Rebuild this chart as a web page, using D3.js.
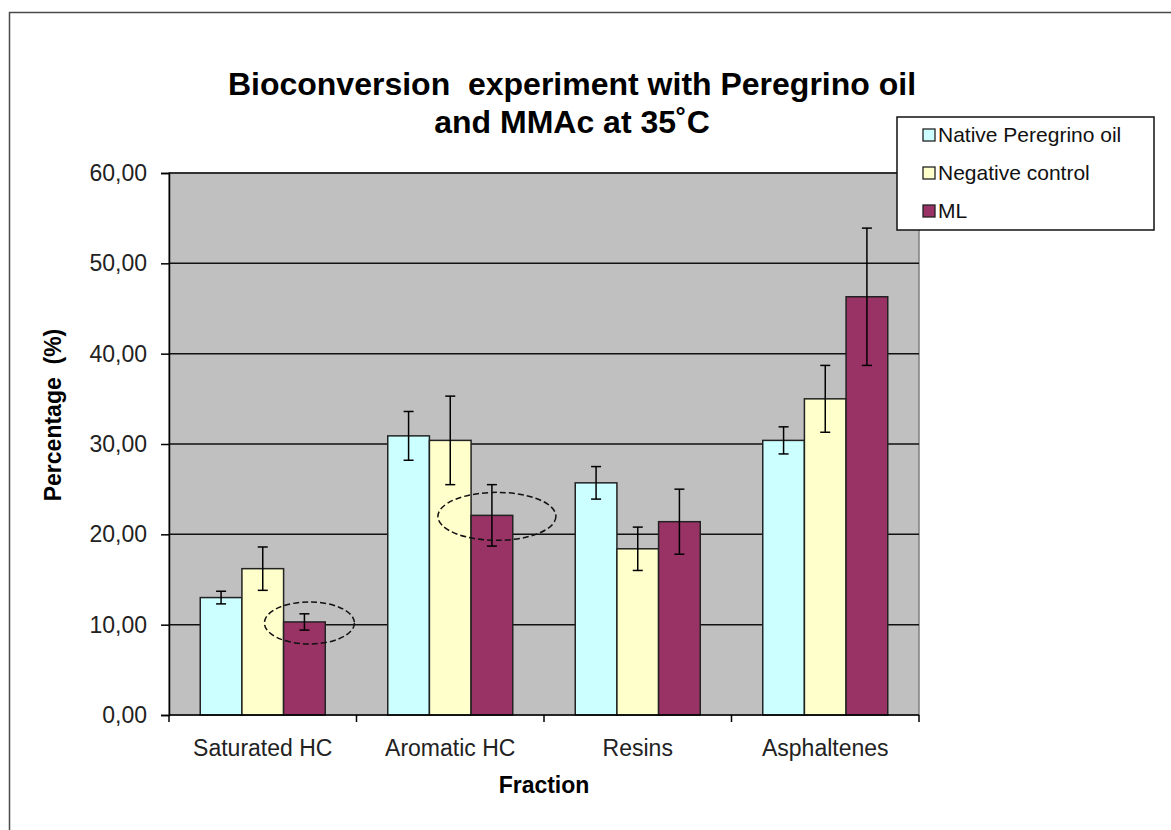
<!DOCTYPE html>
<html>
<head>
<meta charset="utf-8">
<script src="https://cdn.jsdelivr.net/npm/d3@7"></script>
<style>
  html, body { margin: 0; padding: 0; background: #fff; }
  svg { display: block; font-family: "Liberation Sans", Arial, sans-serif; }
</style>
</head>
<body>
<div id="chart"></div>
<script>
// ===== data =====
const categories = ["Saturated HC", "Aromatic HC", "Resins", "Asphaltenes"];
const seriesNames = ["Native Peregrino oil", "Negative control", "ML"];
const nativeValues = [13.0, 30.9, 25.7, 30.4];
const nativeErrors = [0.7, 2.7, 1.8, 1.5];
const controlValues = [16.2, 30.4, 18.4, 35.0];
const controlErrors = [2.4, 4.9, 2.4, 3.7];
const mlValues = [10.3, 22.1, 21.4, 46.3];
const mlErrors = [0.9, 3.4, 3.6, 7.6];
const yTicks = [0, 10, 20, 30, 40, 50, 60];
// bars circled with a dashed ring
const circledCategories = ["Saturated HC", "Aromatic HC"];
const circledSeries = "ML";

const colors = { "Native Peregrino oil": "#ccffff", "Negative control": "#ffffcc", "ML": "#993366" };
const font = "'Liberation Sans', Arial, sans-serif";

const W = 1171, H = 830;
const plot = { left: 169, right: 919, top: 173, bottom: 715 };

const svg = d3.select("#chart").append("svg")
    .attr("width", W)
    .attr("height", H);

// outer chart frame (runs off right and bottom edges)
svg.append("rect")
    .attr("x", 9.5).attr("y", 12.5)
    .attr("width", W + 20).attr("height", H + 20)
    .attr("fill", "#fff")
    .attr("stroke", "#4a4a4a")
    .attr("stroke-width", 1.5);

// =========================
// SCALES
// =========================
const x = d3.scaleBand()
    .domain(categories)
    .range([plot.left, plot.right])
    .padding(0);

const xs = d3.scaleBand()
    .domain(seriesNames)
    .range([0, x.bandwidth()])
    .paddingInner(0)
    .paddingOuter(0.75);

const y = d3.scaleLinear()
    .domain([0, 60])
    .range([plot.bottom, plot.top]);

const fmt = d3.formatLocale({ decimal: ",", thousands: ".", grouping: [3], currency: ["", ""] }).format(".2f");

const rows = categories.map((c, i) => ({
    category: c,
    bars: [
        { series: seriesNames[0], value: nativeValues[i], err: nativeErrors[i] },
        { series: seriesNames[1], value: controlValues[i], err: controlErrors[i] },
        { series: seriesNames[2], value: mlValues[i], err: mlErrors[i] }
    ]
}));

// =========================
// PLOT AREA + GRID
// =========================
svg.append("rect")
    .attr("x", plot.left).attr("y", plot.top)
    .attr("width", plot.right - plot.left)
    .attr("height", plot.bottom - plot.top)
    .attr("fill", "#c0c0c0")
    .attr("stroke", "#808080")
    .attr("stroke-width", 1.5);

svg.append("g")
    .selectAll("line")
    .data(yTicks.filter(t => t > 0))
    .join("line")
    .attr("x1", plot.left).attr("x2", plot.right)
    .attr("y1", d => y(d)).attr("y2", d => y(d))
    .attr("stroke", "#111")
    .attr("stroke-width", 1.5);

// =========================
// BARS + ERROR BARS
// =========================
const groups = svg.append("g")
    .selectAll("g")
    .data(rows)
    .join("g")
    .attr("transform", d => `translate(${x(d.category)},0)`);

groups.selectAll("rect")
    .data(d => d.bars)
    .join("rect")
    .attr("x", d => xs(d.series))
    .attr("y", d => y(d.value))
    .attr("width", xs.bandwidth())
    .attr("height", d => y(0) - y(d.value))
    .attr("fill", d => colors[d.series])
    .attr("stroke", "#222")
    .attr("stroke-width", 1.5);

const err = groups.selectAll("g.err")
    .data(d => d.bars)
    .join("g")
    .attr("class", "err")
    .attr("stroke", "#000")
    .attr("stroke-width", 1.5);

const cx = d => xs(d.series) + xs.bandwidth() / 2;
err.append("line")
    .attr("x1", cx).attr("x2", cx)
    .attr("y1", d => y(d.value + d.err)).attr("y2", d => y(d.value - d.err));
err.append("line")
    .attr("x1", d => cx(d) - 5).attr("x2", d => cx(d) + 5)
    .attr("y1", d => y(d.value + d.err)).attr("y2", d => y(d.value + d.err));
err.append("line")
    .attr("x1", d => cx(d) - 5).attr("x2", d => cx(d) + 5)
    .attr("y1", d => y(d.value - d.err)).attr("y2", d => y(d.value - d.err));

// dashed rings around the highlighted ML bars
const ringSize = [[45, 21], [59, 24]];
circledCategories.forEach((c, i) => {
    const v = mlValues[categories.indexOf(c)];
    svg.append("ellipse")
        .attr("cx", x(c) + xs(circledSeries) + xs.bandwidth() / 2 + 5)
        .attr("cy", y(v) + 1)
        .attr("rx", ringSize[i][0])
        .attr("ry", ringSize[i][1])
        .attr("fill", "none")
        .attr("stroke", "#111")
        .attr("stroke-width", 1.5)
        .attr("stroke-dasharray", "6,3");
});

// =========================
// AXES
// =========================
const yAxis = svg.append("g")
    .attr("transform", `translate(${plot.left},0)`)
    .call(d3.axisLeft(y).tickValues(yTicks).tickFormat(fmt).tickSize(8).tickPadding(14));

const xAxis = svg.append("g")
    .attr("transform", `translate(0,${plot.bottom})`)
    .call(d3.axisBottom(x).tickSize(0).tickPadding(25));

// category boundary ticks
svg.append("g")
    .selectAll("line")
    .data(categories.map(c => x(c)).concat([plot.right]))
    .join("line")
    .attr("x1", d => d).attr("x2", d => d)
    .attr("y1", plot.bottom).attr("y2", plot.bottom + 7)
    .attr("stroke", "#000")
    .attr("stroke-width", 1.5);

[yAxis, xAxis].forEach(a => {
    a.select(".domain").attr("stroke", "#000").attr("stroke-width", 1.5);
    a.selectAll(".tick line").attr("stroke", "#000").attr("stroke-width", 1.5);
    a.selectAll("text")
        .attr("fill", "#222")
        .style("font-family", font)
        .style("font-size", "23px");
});
xAxis.select(".domain").attr("d", `M${plot.left},0H${plot.right}`);

// =========================
// TITLES
// =========================
const title = svg.append("text")
    .attr("x", 572)
    .attr("y", 95)
    .attr("text-anchor", "middle")
    .style("font-family", font)
    .style("font-size", "32px")
    .style("font-weight", "bold")
    .attr("fill", "#000");
title.append("tspan").attr("x", 572).attr("xml:space", "preserve").text("Bioconversion  experiment with Peregrino oil");
title.append("tspan").attr("x", 572).attr("dy", 38).text("and MMAc at 35˚C");

svg.append("text")
    .attr("x", (plot.left + plot.right) / 2)
    .attr("y", 793)
    .attr("text-anchor", "middle")
    .style("font-family", font)
    .style("font-size", "23px")
    .style("font-weight", "bold")
    .text("Fraction");

svg.append("text")
    .attr("transform", `translate(61,${(plot.top + plot.bottom) / 2 - 29}) rotate(-90)`)
    .attr("text-anchor", "middle")
    .attr("xml:space", "preserve")
    .style("font-family", font)
    .style("font-size", "23px")
    .style("font-weight", "bold")
    .text("Percentage  (%)");

// =========================
// LEGEND
// =========================
const legend = svg.append("g").attr("transform", "translate(897,117)");
legend.append("rect")
    .attr("width", 257).attr("height", 113)
    .attr("fill", "#fff")
    .attr("stroke", "#111")
    .attr("stroke-width", 1.5);

const item = legend.selectAll("g.item")
    .data(seriesNames)
    .join("g")
    .attr("class", "item")
    .attr("transform", (d, i) => `translate(0,${18 + i * 38})`);

item.append("rect")
    .attr("x", 26).attr("y", -6)
    .attr("width", 12).attr("height", 12)
    .attr("fill", d => colors[d])
    .attr("stroke", "#222")
    .attr("stroke-width", 1.3);

item.append("text")
    .attr("x", 41)
    .attr("dy", "0.35em")
    .style("font-family", font)
    .style("font-size", "21px")
    .attr("fill", "#111")
    .text(d => d);
</script>
</body>
</html>
